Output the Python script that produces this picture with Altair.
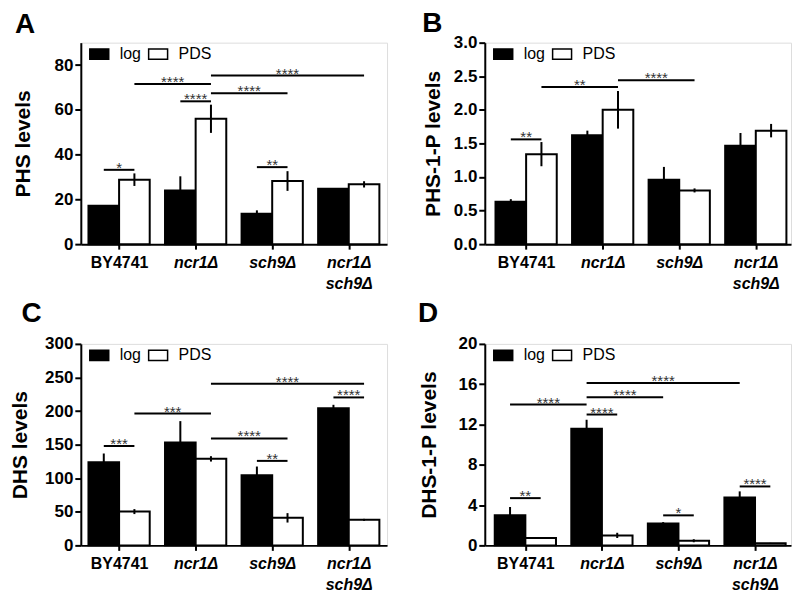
import altair as alt
import pandas as pd

FONT = "Liberation Sans"

groups = ["BY4741", "ncr1Δ", "sch9Δ", "ncr1Δ sch9Δ"]
conditions = ["log", "PDS"]

# Panel A: PHS
phs_log = [17.1, 24.0, 13.6, 24.8]
phs_log_err = [0.0, 6.3, 1.5, 0.0]
phs_pds = [28.8, 56.0, 28.2, 26.7]
phs_pds_err = [2.8, 6.3, 4.4, 1.4]
phs_comp_a = [(0, "log"), (2, "log"), (0, "PDS"), (1, "log"), (1, "PDS"), (1, "PDS")]
phs_comp_b = [(0, "PDS"), (2, "PDS"), (1, "PDS"), (1, "PDS"), (2, "PDS"), (3, "PDS")]
phs_comp_y = [33.2, 34.4, 71.5, 63.8, 67.4, 75.3]
phs_comp_lab = ["*", "**", "****", "****", "****", "****"]

# Panel B: PHS-1-P
php_log = [0.63, 1.62, 0.96, 1.465]
php_log_err = [0.04, 0.07, 0.19, 0.19]
php_pds = [1.34, 2.0, 0.80, 1.69]
php_pds_err = [0.18, 0.28, 0.03, 0.10]
php_comp_a = [(0, "log"), (0, "PDS"), (1, "PDS")]
php_comp_b = [(0, "PDS"), (1, "PDS"), (2, "PDS")]
php_comp_y = [1.56, 2.34, 2.44]
php_comp_lab = ["**", "**", "****"]

# Panel C: DHS
dhs_log = [123.8, 153.0, 104.6, 204.3]
dhs_log_err = [13.0, 32.0, 12.8, 5.0]
dhs_pds = [50.3, 128.8, 41.0, 38.0]
dhs_pds_err = [3.7, 4.0, 7.0, 1.5]
dhs_comp_a = [(0, "log"), (0, "PDS"), (1, "PDS"), (2, "log"), (1, "PDS"), (3, "log")]
dhs_comp_b = [(0, "PDS"), (1, "PDS"), (2, "PDS"), (2, "PDS"), (3, "PDS"), (3, "PDS")]
dhs_comp_y = [148.0, 196.3, 159.3, 125.8, 240.5, 220.3]
dhs_comp_lab = ["***", "***", "****", "**", "****", "****"]

# Panel D: DHS-1-P
dhp_log = [2.98, 11.57, 2.18, 4.76]
dhp_log_err = [0.83, 0.90, 0.13, 0.60]
dhp_pds = [0.73, 0.99, 0.46, 0.20]
dhp_pds_err = [0.10, 0.26, 0.15, 0.05]
dhp_comp_a = [(0, "log"), (0, "log"), (1, "log"), (1, "log"), (1, "log"), (2, "log"), (3, "log")]
dhp_comp_b = [(0, "PDS"), (1, "log"), (1, "PDS"), (2, "log"), (3, "log"), (2, "PDS"), (3, "PDS")]
dhp_comp_y = [4.69, 13.98, 12.99, 14.7, 16.13, 2.98, 5.85]
dhp_comp_lab = ["**", "****", "****", "****", "****", "*", "****"]

HALF = 0.2  # half bar width in group units


def center(i, c):
    return i + (-HALF if c == "log" else HALF)


def panel(letter, ytitle, log, log_err, pds, pds_err, ca, cb, cy, clab,
          ymax, yvals, yfmt, xdomain, tpad, tdx, toff):
    rows = []
    for i, g in enumerate(groups):
        for c, vals, errs in (("log", log, log_err), ("PDS", pds, pds_err)):
            m = center(i, c)
            rows.append({"group": g, "cond": c, "value": vals[i],
                         "x": m - HALF, "x2": m + HALF, "center": m,
                         "lo": vals[i] - errs[i], "hi": vals[i] + errs[i]})
    df = pd.DataFrame(rows)
    comps = []
    for a, b, y, lab in zip(ca, cb, cy, clab):
        x1 = center(*a)
        x2 = center(*b)
        comps.append({"x1": x1, "x2": x2, "xm": (x1 + x2) / 2, "y": y, "label": lab})
    cdf = pd.DataFrame(comps)

    label_arr = "[" + ",".join("[" + ",".join("'" + p + "'" for p in g.split(" ")) + "]" for g in groups) + "]"
    xscale = alt.Scale(domain=xdomain, nice=False, zero=False)
    yscale = alt.Scale(domain=[0, ymax], nice=False)
    xaxis = alt.Axis(values=list(range(len(groups))), labelExpr=label_arr + "[datum.value]",
                     labelFont=FONT, labelFontSize=16, labelFontWeight="bold", labelColor="black",
                     labelFontStyle={"condition": {"test": "datum.value == 0", "value": "normal"}, "value": "italic"},
                     labelLineHeight=21, labelPadding=5, labelFlush=False, labelOverlap=False,
                     tickColor="black", tickSize=5, tickWidth=2, domainColor="black", domainWidth=2,
                     grid=False, title=None)
    yaxis = alt.Axis(values=yvals, format=yfmt, labelFont=FONT, labelFontSize=17, labelFontWeight="bold",
                     labelColor="black", labelPadding=2, labelOverlap=False, labelFlush=False,
                     tickColor="black", tickSize=6, tickWidth=2, domainColor="black", domainWidth=2,
                     grid=False, title=ytitle, titleFont=FONT, titleFontSize=21, titleFontWeight="bold",
                     titleColor="black", titlePadding=tpad)
    X = lambda f: alt.X(f, type="quantitative", scale=xscale, axis=xaxis)
    Y = lambda f: alt.Y(f, type="quantitative", scale=yscale, axis=yaxis)

    bars = alt.Chart(df).mark_rect(stroke="black", strokeWidth=2).encode(
        x=X("x"), x2="x2", y=Y("value"), y2=alt.datum(0),
        fill=alt.Fill("cond:N", scale=alt.Scale(domain=conditions, range=["black", "white"]),
                      legend=alt.Legend(orient="none", legendX=8, legendY=1, direction="horizontal",
                                        title=None, symbolType="M-1,-0.55H1V0.55H-1Z", symbolSize=361,
                                        symbolStrokeColor="black", symbolStrokeWidth=1.5, symbolOpacity=1,
                                        labelFont=FONT, labelFontSize=16, labelColor="black",
                                        labelOffset=10, columnPadding=4, padding=0, gridAlign="none")),
    )
    err = alt.Chart(df).mark_rule(color="black", strokeWidth=2).encode(
        x=X("center"), y=Y("lo"), y2="hi")
    lines = alt.Chart(cdf).mark_rule(color="black", strokeWidth=2).encode(
        x=X("x1"), x2="x2", y=Y("y"))
    stars = alt.Chart(cdf).mark_text(font=FONT, fontSize=15, color="#333333", baseline="alphabetic", dy=3).encode(
        x=X("xm"), y=Y("y"), text="label:N")
    return alt.layer(bars, err, lines, stars).properties(
        width=307, height=202,
        title=alt.TitleParams(letter, anchor="start", frame="bounds", font=FONT, fontSize=28,
                              fontWeight="bold", color="black", offset=toff, dx=tdx),
    )


A = panel("A", "PHS levels", phs_log, phs_log_err, phs_pds, phs_pds_err,
          phs_comp_a, phs_comp_b, phs_comp_y, phs_comp_lab,
          90, [0, 20, 40, 60, 80], "d", [-0.5, 3.5], 21, 3, 4)
B = panel("B", "PHS-1-P levels", php_log, php_log_err, php_pds, php_pds_err,
          php_comp_a, php_comp_b, php_comp_y, php_comp_lab,
          3, [0, 0.5, 1.0, 1.5, 2.0, 2.5, 3.0], ".1f", [-0.54, 3.46], 10, 0, -4)
C = panel("C", "DHS levels", dhs_log, dhs_log_err, dhs_pds, dhs_pds_err,
          dhs_comp_a, dhs_comp_b, dhs_comp_y, dhs_comp_lab,
          300, [0, 50, 100, 150, 200, 250, 300], "d", [-0.5, 3.5], 14, 12, 7)
D = panel("D", "DHS-1-P levels", dhp_log, dhp_log_err, dhp_pds, dhp_pds_err,
          dhp_comp_a, dhp_comp_b, dhp_comp_y, dhp_comp_lab,
          20, [0, 4, 8, 12, 16, 20], "d", [-0.53, 3.47], 19, 0, 7)

top = alt.hconcat(A, B, spacing=33).resolve_scale(fill="independent")
bottom = alt.hconcat(C, D, spacing=29).resolve_scale(fill="independent")
chart = alt.vconcat(top, bottom, spacing=7).resolve_scale(fill="independent").properties(
    padding={"left": 1, "top": 0, "right": 0, "bottom": 0}
).configure_view(stroke="black", strokeWidth=2).configure(background="white")

chart.save("out.html", embed_options={"renderer": "svg", "actions": False})
